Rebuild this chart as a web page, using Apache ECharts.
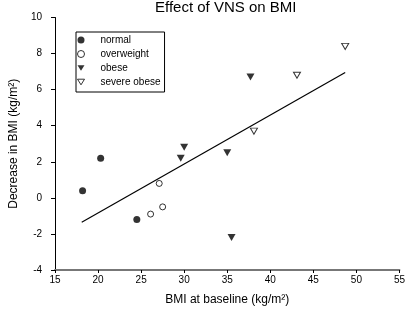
<!DOCTYPE html>
<html>
<head>
<meta charset="utf-8">
<script src="https://cdn.jsdelivr.net/npm/echarts@6/dist/echarts.min.js"></script>
<style>
  html, body { margin: 0; padding: 0; background: #fff; }
  #chart { width: 408px; height: 316px; }
</style>
</head>
<body>
<div id="chart"></div>
<script>
// BMI at baseline (x) vs decrease in BMI (y), per group
const normalX = [18.2, 20.3, 24.5];
const normalY = [0.4, 2.2, -1.2];
const overweightX = [26.1, 27.1, 27.5];
const overweightY = [-0.9, 0.8, -0.5];
const obeseX = [29.6, 30.0, 35.0, 35.5, 37.7];
const obeseY = [2.2, 2.8, 2.5, -2.2, 6.7];
const severeX = [38.1, 43.1, 48.7];
const severeY = [3.7, 6.8, 8.4];
// regression line end points
const fitX = [18.1, 48.7];
const fitY = [-1.35, 6.95];

const pairs = (xs, ys) => xs.map((x, i) => [x, ys[i]]);
const downTri = 'path://M0,0L10,0L5,8Z';
const font = 'Liberation Sans, Arial, sans-serif';

var chart = echarts.init(document.getElementById('chart'), null, { renderer: 'canvas' });
var option = {
  animation: false,
  backgroundColor: '#fff',
  textStyle: { fontFamily: font, color: '#000' },
  title: {
    text: 'Effect of VNS on BMI',
    left: 155, top: 0, padding: 0,
    textStyle: { fontSize: 15, fontWeight: 'normal', color: '#000', fontFamily: font }
  },
  legend: {
    data: [
      { name: 'normal', icon: 'circle', itemStyle: { color: '#000', borderWidth: 0 } },
      { name: 'overweight', icon: 'circle', itemStyle: { color: '#fff', borderColor: '#000', borderWidth: 1 } },
      { name: 'obese', icon: downTri, itemStyle: { color: '#000', borderWidth: 0 } },
      { name: 'severe obese', icon: downTri, itemStyle: { color: '#fff', borderColor: '#000', borderWidth: 1 } }
    ],
    orient: 'vertical',
    left: 76, top: 32,
    padding: [3, 4, 5, 1],
    borderColor: '#000', borderWidth: 1,
    itemWidth: 7, itemHeight: 7, itemGap: 4,
    textStyle: { fontSize: 10, lineHeight: 10, padding: [0, 0, 0, 11], color: '#000', fontFamily: font }
  },
  grid: { left: 40, right: 6, top: 17.5, bottom: 46, containLabel: false },
  xAxis: {
    type: 'value', min: 15, max: 55, interval: 5,
    name: 'BMI at baseline (kg/m²)',
    nameLocation: 'middle', nameGap: 24,
    nameTextStyle: { fontSize: 12, color: '#000', fontFamily: font },
    axisLine: { show: true, onZero: false, lineStyle: { color: '#777', width: 2 } },
    axisTick: { show: true, length: 3, lineStyle: { color: '#000' } },
    axisLabel: { fontSize: 10, margin: 5, color: '#000', fontFamily: font },
    splitLine: { show: false }
  },
  yAxis: {
    type: 'value', min: -4, max: 10, interval: 2,
    name: 'Decrease in BMI (kg/m²)',
    nameLocation: 'middle', nameGap: 27, nameRotate: 90,
    nameTextStyle: { fontSize: 12, color: '#000', fontFamily: font },
    axisLine: { show: true, onZero: false, lineStyle: { color: '#000', width: 1 } },
    axisTick: { show: true, length: 4, lineStyle: { color: '#000' } },
    axisLabel: { fontSize: 10, margin: 13, color: '#000', fontFamily: font },
    splitLine: { show: false }
  },
  series: [
    {
      name: 'fit', type: 'line', data: pairs(fitX, fitY), symbol: 'none', silent: true,
      lineStyle: { color: '#000', width: 1.2 }, z: 1
    },
    {
      name: 'normal', type: 'scatter', data: pairs(normalX, normalY),
      symbol: 'circle', symbolSize: 7,
      itemStyle: { color: '#000' }, z: 3
    },
    {
      name: 'overweight', type: 'scatter', data: pairs(overweightX, overweightY),
      symbol: 'circle', symbolSize: 6,
      itemStyle: { color: '#fff', borderColor: '#000', borderWidth: 1 }, z: 3
    },
    {
      name: 'obese', type: 'scatter', data: pairs(obeseX, obeseY),
      symbol: downTri, symbolSize: [8, 7],
      itemStyle: { color: '#000' }, z: 3
    },
    {
      name: 'severe obese', type: 'scatter', data: pairs(severeX, severeY),
      symbol: downTri, symbolSize: [7, 6],
      itemStyle: { color: '#fff', borderColor: '#000', borderWidth: 1 }, z: 3
    }
  ]
};
option && chart.setOption(option);
</script>
</body>
</html>
